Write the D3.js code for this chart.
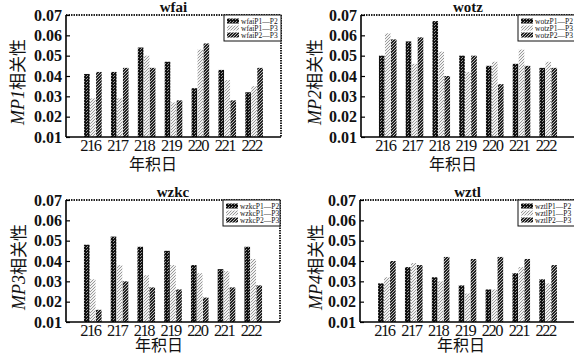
<!DOCTYPE html>
<html>
<head>
<meta charset="utf-8">
<script src="https://cdn.jsdelivr.net/npm/d3@7/dist/d3.min.js"></script>
<style>
  html, body { margin: 0; padding: 0; background: #fff; }
  svg { display: block; }
</style>
</head>
<body>
<svg id="chart" width="574" height="356"></svg>
<script>
// Day of year categories shared by all panels
const days = ["216", "217", "218", "219", "220", "221", "222"];
const stations = ["wfai", "wotz", "wzkc", "wztl"];
const yTitleCodes = ["MP1", "MP2", "MP3", "MP4"];
const pairLabels = ["P1\u2014P2", "P1\u2014P3", "P2\u2014P3"];
const yTicks = [0.01, 0.02, 0.03, 0.04, 0.05, 0.06, 0.07];
const yTickLabels = ["0.01", "0.02", "0.03", "0.04", "0.05", "0.06", "0.07"];

// MP correlation values per station and signal pair
const wfaiP1P2 = [0.041, 0.042, 0.054, 0.047, 0.034, 0.043, 0.032];
const wfaiP1P3 = [0.029, 0.029, 0.050, 0.027, 0.053, 0.038, 0.035];
const wfaiP2P3 = [0.042, 0.044, 0.044, 0.028, 0.056, 0.028, 0.044];

const wotzP1P2 = [0.050, 0.057, 0.067, 0.050, 0.045, 0.046, 0.044];
const wotzP1P3 = [0.061, 0.046, 0.052, 0.042, 0.047, 0.053, 0.047];
const wotzP2P3 = [0.058, 0.059, 0.040, 0.050, 0.036, 0.045, 0.044];

const wzkcP1P2 = [0.048, 0.052, 0.047, 0.045, 0.038, 0.036, 0.047];
const wzkcP1P3 = [0.031, 0.038, 0.033, 0.038, 0.034, 0.035, 0.041];
const wzkcP2P3 = [0.016, 0.030, 0.027, 0.026, 0.022, 0.027, 0.028];

const wztlP1P2 = [0.029, 0.037, 0.032, 0.028, 0.026, 0.034, 0.031];
const wztlP1P3 = [0.032, 0.039, 0.030, 0.024, 0.026, 0.037, 0.029];
const wztlP2P3 = [0.040, 0.038, 0.042, 0.041, 0.042, 0.041, 0.038];

const seriesByStation = [
  [wfaiP1P2, wfaiP1P3, wfaiP2P3],
  [wotzP1P2, wotzP1P3, wotzP2P3],
  [wzkcP1P2, wzkcP1P3, wzkcP2P3],
  [wztlP1P2, wztlP1P3, wztlP2P3]
];

// Panel frames and label placement
const panels = [
  { left: 66,  right: 281, top: 15,  bottom: 137, yTitleX: 18,  xTitleX: 153, xTitleDy: 33 },
  { left: 361, right: 575, top: 15,  bottom: 137, yTitleX: 315, xTitleX: 453, xTitleDy: 33 },
  { left: 66,  right: 280, top: 200, bottom: 322, yTitleX: 19,  xTitleX: 159, xTitleDy: 29 },
  { left: 360, right: 575, top: 200, bottom: 322, yTitleX: 316, xTitleX: 461, xTitleDy: 29 }
];

const svg = d3.select("#chart");
const serif = "'Liberation Serif', 'Times New Roman', serif";
const cjk = "'Noto Sans CJK SC', sans-serif";

// Stippled fill patterns for the three pair series
const defs = svg.append("defs");
function makePattern(id, base, dotColor, dots) {
  const p = defs.append("pattern")
    .attr("id", id).attr("patternUnits", "userSpaceOnUse")
    .attr("width", 3).attr("height", 3);
  p.append("rect").attr("width", 3).attr("height", 3).attr("fill", base);
  dots.forEach(([x, y]) => p.append("rect").attr("x", x).attr("y", y)
    .attr("width", 1).attr("height", 1).attr("fill", dotColor));
}
makePattern("pat0", "#111", "#9a9a9a", [[0, 0], [2, 1]]);
makePattern("pat1", "#f2f2f2", "#999", [[0, 0], [2, 1], [1, 2]]);
makePattern("pat2", "#222", "#bbb", [[0, 0], [2, 1], [1, 2]]);
const fills = ["url(#pat0)", "url(#pat1)", "url(#pat2)"];

panels.forEach((pn, pi) => {
  const g = svg.append("g");
  const station = stations[pi];
  const series = seriesByStation[pi];

  const x = d3.scalePoint().domain(days).range([pn.left, pn.right]).padding(1);
  const y = d3.scaleLinear().domain([0.01, 0.07]).range([pn.bottom, pn.top]);

  const barW = 5.6, barStep = 6;

  // Bars
  series.forEach((vals, si) => {
    g.append("g").selectAll("rect")
      .data(vals.map((v, i) => ({ day: days[i], v })))
      .join("rect")
      .attr("x", d => x(d.day) + (si - 1) * barStep - barW / 2)
      .attr("y", d => y(d.v))
      .attr("width", barW)
      .attr("height", d => y(0.01) - y(d.v))
      .attr("fill", fills[si]);
  });

  // Frame: dotted top/right edges
  g.append("line").attr("x1", pn.left).attr("x2", pn.right)
    .attr("y1", pn.top).attr("y2", pn.top)
    .attr("stroke", "#222").attr("stroke-width", 2).attr("stroke-dasharray", "1.5,1");
  g.append("line").attr("x1", pn.right).attr("x2", pn.right)
    .attr("y1", pn.top).attr("y2", pn.bottom)
    .attr("stroke", "#222").attr("stroke-width", 2).attr("stroke-dasharray", "1.5,1");

  // Left axis with inward ticks
  const yAxis = d3.axisRight(y).tickValues(yTicks).tickSize(4).tickFormat("");
  const ya = g.append("g").attr("transform", `translate(${pn.left},0)`).call(yAxis);
  ya.select(".domain").attr("stroke", "#000").attr("stroke-width", 1.6)
    .attr("d", `M0,${pn.top}V${pn.bottom}`);
  ya.selectAll(".tick line").attr("stroke", "#000").attr("stroke-width", 1.2);

  g.append("g").selectAll("text")
    .data(yTicks)
    .join("text")
    .attr("x", pn.left - 4)
    .attr("y", d => y(d))
    .attr("dy", "0.36em")
    .attr("text-anchor", "end")
    .attr("font-family", serif)
    .attr("font-size", 16)
    .attr("font-weight", "bold")
    .attr("fill", "#111")
    .text((d, i) => yTickLabels[i]);

  // Bottom axis
  const xAxis = d3.axisBottom(x).tickSize(0).tickPadding(4);
  const xa = g.append("g").attr("transform", `translate(0,${pn.bottom})`).call(xAxis);
  xa.select(".domain").attr("stroke", "#000").attr("stroke-width", 1.6)
    .attr("d", `M${pn.left},0H${pn.right}`);
  xa.selectAll(".tick text")
    .attr("x", -3)
    .attr("y", 2)
    .attr("font-family", serif)
    .attr("font-size", 16.5)
    .attr("letter-spacing", "-1.5px")
    .attr("fill", "#111");

  // Panel title
  g.append("text")
    .attr("x", (pn.left + pn.right) / 2)
    .attr("y", pn.top - 3)
    .attr("text-anchor", "middle")
    .attr("font-family", serif)
    .attr("font-weight", "bold")
    .attr("font-size", 15)
    .attr("fill", "#111")
    .text(station);

  // X axis title
  g.append("text")
    .attr("x", pn.xTitleX)
    .attr("y", pn.bottom + pn.xTitleDy)
    .attr("text-anchor", "middle")
    .attr("font-family", cjk)
    .attr("font-size", 16)
    .attr("fill", "#111")
    .text("年积日");

  // Y axis title
  const yt = g.append("text")
    .attr("transform", `translate(${pn.yTitleX + 6},${(pn.top + pn.bottom) / 2 + 6}) rotate(-90)`)
    .attr("text-anchor", "middle")
    .attr("fill", "#111");
  yt.append("tspan").attr("font-family", serif).attr("font-style", "italic")
    .attr("font-size", 18).text(yTitleCodes[pi]);
  yt.append("tspan").attr("font-family", cjk).attr("font-size", 17).text("相关性");

  // Legend
  const lgW = 57, lgH = 26;
  const lg = g.append("g").attr("transform", `translate(${pn.right - lgW},${pn.top})`);
  lg.append("rect").attr("width", lgW).attr("height", lgH)
    .attr("fill", "#fff").attr("stroke", "#111").attr("stroke-width", 1);
  pairLabels.forEach((lab, si) => {
    const cy = 6 + si * 7;
    lg.append("rect").attr("x", 3).attr("y", cy - 2.5).attr("width", 12).attr("height", 5)
      .attr("fill", fills[si]);
    lg.append("text").attr("x", 17).attr("y", cy).attr("dy", "0.35em")
      .attr("font-family", serif).attr("font-size", 7.5).attr("fill", "#111")
      .text(station + lab);
  });
});
</script>
</body>
</html>
